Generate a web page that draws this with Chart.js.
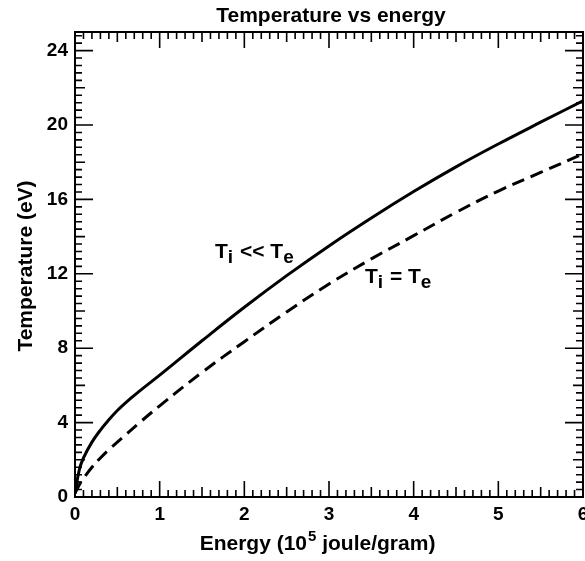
<!DOCTYPE html>
<html>
<head>
<meta charset="utf-8">
<script src="https://cdn.jsdelivr.net/npm/chart.js@4.4.1/dist/chart.umd.min.js"></script>
<style>
  html, body { margin: 0; padding: 0; background: #fff; }
  #wrap { width: 585px; height: 561px; }
</style>
</head>
<body>
<div id="wrap"><canvas id="c" width="585" height="561"></canvas></div>
<script>
// ---- data ----
const energy = [0, 0.05, 0.1, 0.2, 0.3, 0.4, 0.5, 0.6, 0.75, 1, 1.5, 2, 2.5, 3, 3.5, 4, 4.5, 5, 5.5, 6];
const tempIonsCold = [0.2, 1.45, 2.1, 2.95, 3.6, 4.15, 4.65, 5.08, 5.65, 6.55, 8.4, 10.2, 11.9, 13.5, 15.0, 16.42, 17.75, 18.98, 20.15, 21.3];
const tempEqual    = [0.2, 0.65, 1.0, 1.6, 2.1, 2.55, 2.95, 3.35, 3.95, 4.9, 6.7, 8.35, 9.95, 11.45, 12.8, 14.05, 15.3, 16.45, 17.45, 18.45];
const xTickValues = [0, 1, 2, 3, 4, 5, 6];
const yTickValues = [0, 4, 8, 12, 16, 20, 24];
const chartTitle = "Temperature vs energy";
const xTitleParts = ["Energy (10", "5", " joule/gram)"];
const yTitle = "Temperature (eV)";
const labelCold = ["T", "i", " << ", "T", "e"];
const labelEqual = ["T", "i", " = ", "T", "e"];

const FONT = '"Liberation Sans", Arial, Helvetica, sans-serif';

function drawSubLabel(ctx, parts, x, y) {
  let cx = x;
  parts.forEach((p, i) => {
    const sub = (i === 1 || i === 4);
    ctx.font = (sub ? 'bold 19px ' : 'bold 21px ') + FONT;
    ctx.fillText(p, cx, sub ? y + 5 : y);
    cx += ctx.measureText(p).width + (sub ? 1 : 0);
  });
}

const decor = {
  id: 'decor',
  afterDatasetsDraw(chart) {
    const ctx = chart.ctx;
    const a = chart.chartArea;
    const xs = chart.scales.x, ys = chart.scales.y;
    ctx.save();
    ctx.strokeStyle = '#000';
    ctx.fillStyle = '#000';
    // frame
    ctx.lineWidth = 2;
    ctx.strokeRect(a.left, a.top, a.right - a.left, a.bottom - a.top);
    // x ticks (bottom & top, inward)
    ctx.lineWidth = 1.6;
    ctx.beginPath();
    for (let i = 0; i <= 60; i++) {
      const px = xs.getPixelForValue(i / 10);
      const len = (i % 10 === 0) ? 16 : (i % 5 === 0 ? 10 : 7);
      ctx.moveTo(px, a.bottom); ctx.lineTo(px, a.bottom - len);
      ctx.moveTo(px, a.top); ctx.lineTo(px, a.top + len);
    }
    // y ticks (left & right, inward)
    for (let i = 0; i <= 62; i++) {
      const py = ys.getPixelForValue(i * 0.4);
      const len = (i % 10 === 0) ? 18 : (i % 5 === 0 ? 10 : 7);
      ctx.moveTo(a.left, py); ctx.lineTo(a.left + len, py);
      ctx.moveTo(a.right, py); ctx.lineTo(a.right - len, py);
    }
    ctx.stroke();

    // title
    ctx.textBaseline = 'alphabetic';
    ctx.textAlign = 'center';
    ctx.font = 'bold 21px ' + FONT;
    ctx.fillText(chartTitle, 331, 22);

    // x axis title with superscript
    ctx.textAlign = 'left';
    ctx.font = 'bold 21px ' + FONT;
    const w0 = ctx.measureText(xTitleParts[0]).width;
    const w2 = ctx.measureText(xTitleParts[2]).width;
    ctx.font = 'bold 15px ' + FONT;
    const w1 = ctx.measureText(xTitleParts[1]).width;
    let sx = 317.5 - (w0 + w1 + w2 + 1) / 2;
    ctx.font = 'bold 21px ' + FONT;
    ctx.fillText(xTitleParts[0], sx, 550);
    ctx.font = 'bold 15px ' + FONT;
    ctx.fillText(xTitleParts[1], sx + w0 + 1, 541);
    ctx.font = 'bold 21px ' + FONT;
    ctx.fillText(xTitleParts[2], sx + w0 + w1 + 1, 550);

    // y axis title
    ctx.save();
    ctx.translate(32, 266);
    ctx.rotate(-Math.PI / 2);
    ctx.textAlign = 'center';
    ctx.font = 'bold 21px ' + FONT;
    ctx.fillText(yTitle, 0, 0);
    ctx.restore();

    // curve labels
    ctx.textAlign = 'left';
    drawSubLabel(ctx, labelCold, 215, 258);
    drawSubLabel(ctx, labelEqual, 365, 283);
    ctx.restore();
  }
};

new Chart(document.getElementById('c'), {
  type: 'line',
  data: {
    datasets: [
      {
        label: 'Ti << Te',
        data: energy.map((e, i) => ({ x: e, y: tempIonsCold[i] })),
        borderColor: '#000',
        borderWidth: 3,
        pointRadius: 0,
        tension: 0.4,
        fill: false
      },
      {
        label: 'Ti = Te',
        data: energy.map((e, i) => ({ x: e, y: tempEqual[i] })),
        borderColor: '#000',
        borderWidth: 3,
        borderDash: [13, 7],
        pointRadius: 0,
        tension: 0.4,
        fill: false
      }
    ]
  },
  options: {
    responsive: false,
    animation: false,
    devicePixelRatio: 1,
    layout: { padding: { top: 32, right: 2, left: 0, bottom: 0 } },
    plugins: { legend: { display: false }, tooltip: { enabled: false }, title: { display: false } },
    scales: {
      x: {
        type: 'linear', min: 0, max: 6,
        grid: { display: false, drawTicks: false },
        border: { display: false },
        afterBuildTicks: s => { s.ticks = xTickValues.map(v => ({ value: v })); },
        afterFit: s => { s.height = 64; s.paddingLeft = 0; s.paddingRight = 0; },
        ticks: { color: '#000', padding: 6, maxRotation: 0, autoSkip: false,
                 font: { family: FONT, size: 19, weight: 'bold' } }
      },
      y: {
        type: 'linear', min: 0, max: 25,
        grid: { display: false, drawTicks: false },
        border: { display: false },
        afterBuildTicks: s => { s.ticks = yTickValues.map(v => ({ value: v })); },
        afterFit: s => { s.width = 75; s.paddingTop = 0; s.paddingBottom = 0; },
        ticks: { color: '#000', padding: 7, autoSkip: false,
                 font: { family: FONT, size: 19, weight: 'bold' } }
      }
    }
  },
  plugins: [decor]
});
</script>
</body>
</html>
